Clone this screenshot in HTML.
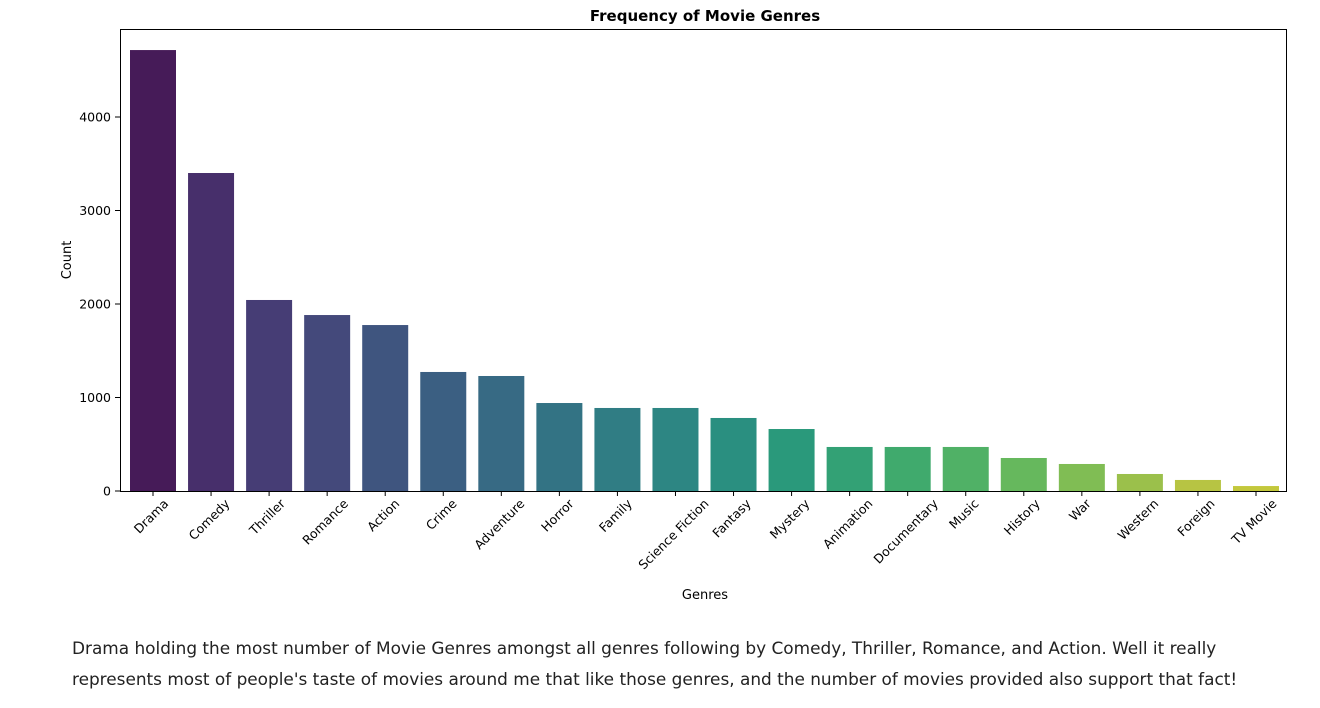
<!DOCTYPE html>
<html><head><meta charset="utf-8"><style>
body{margin:0;background:#fff;width:1320px;height:708px;overflow:hidden;font-family:"DejaVu Sans","Liberation Sans",sans-serif}
p{position:absolute;left:72px;top:633px;margin:0;width:1200px;font-size:16.9px;line-height:31px;color:#222;font-family:"DejaVu Sans","Liberation Sans",sans-serif}
</style></head><body>
<svg id="chart" width="1320" height="620" style="position:absolute;left:0;top:0" font-family="DejaVu Sans, Liberation Sans, sans-serif">
<text x="705" y="21" text-anchor="middle" font-size="15" font-weight="bold">Frequency of Movie Genres</text>
<g id="marks"></g>
<rect x="120.5" y="29.5" width="1166" height="462" fill="none" stroke="#000" stroke-width="1"/>
<text transform="translate(71,260) rotate(-90)" text-anchor="middle" font-size="13">Count</text>
<text x="705" y="599" text-anchor="middle" font-size="13">Genres</text>
</svg>
<p>Drama holding the most number of Movie Genres amongst all genres following by Comedy, Thriller, Romance, and Action. Well it really represents most of people's taste of movies around me that like those genres, and the number of movies provided also support that fact!</p>
<script>
const categories=["Drama","Comedy","Thriller","Romance","Action","Crime","Adventure","Horror","Family","Science Fiction","Fantasy","Mystery","Animation","Documentary","Music","History","War","Western","Foreign","TV Movie"];
const counts=[4716,3401,2043,1882,1775,1273,1230,941,888,888,781,663,471,471,471,353,289,182,118,53];
const yTicks=[0,1000,2000,3000,4000];
const colors=["#461b58","#472f6b","#463d75","#44497b","#3f557f","#3b5f82","#376a84","#337384","#307d84","#2d8683","#2a8f80","#2a997b","#33a175","#40aa6d","#50b166","#66b85d","#80bd54","#9bc04b","#b7c443","#c3c83c"];
const L=120,R=1286,T=29,B=491;
const y=v=>B-v*(B-117)/4000;
const step=(1256-153)/19;
const x=i=>153+i*step;
const bw=46;
const g=document.getElementById('marks');
const NS='http://www.w3.org/2000/svg';
function mk(t,a){const e=document.createElementNS(NS,t);for(const k in a)e.setAttribute(k,a[k]);g.appendChild(e);return e;}
counts.forEach((v,i)=>{
 const r=mk('rect',{x:x(i)-bw/2,y:y(v),width:bw,height:B-y(v),fill:colors[i]});
 
 
 const tk=mk('line',{x1:x(i),x2:x(i),y1:B,y2:B+5,stroke:'#000'});
 
 
 const t=mk('text',{'font-size':12.5,'text-anchor':'middle','dominant-baseline':'central'});
 t.textContent=categories[i];
 
 
 const w=t.getComputedTextLength();
 const cy=497+(w+12)*0.7071/2;
 t.setAttribute('transform','translate('+(x(i)-2)+','+cy+') rotate(-45)');
});
yTicks.forEach(v=>{
 const tk=mk('line',{x1:L-5,x2:L,y1:y(v),y2:y(v),stroke:'#000'});
 
 
 const t=mk('text',{x:L-9,y:y(v)+4.5,'font-size':12.5,'text-anchor':'end'});
 t.textContent=v;
 
 
});
</script>
</body></html>
